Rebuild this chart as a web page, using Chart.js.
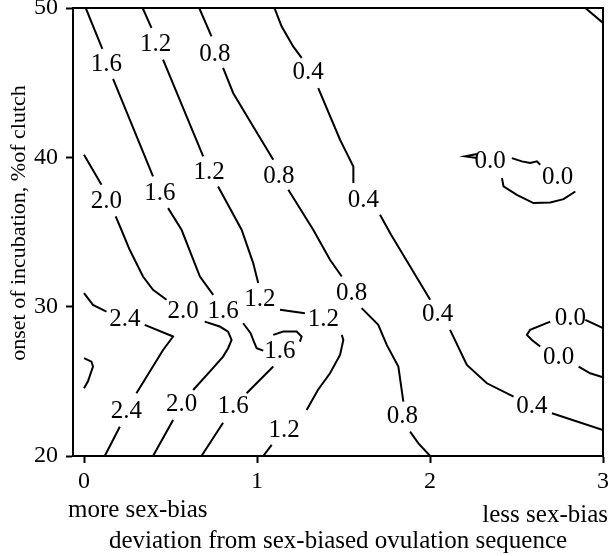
<!DOCTYPE html>
<html><head><meta charset="utf-8">
<script src="https://cdn.jsdelivr.net/npm/chart.js@4"></script>
<style>html,body{margin:0;padding:0;background:#fff}canvas{display:block}</style>
</head><body>
<canvas id="c" width="610" height="556"></canvas>
<script>
// ---- data (x: deviation, y: onset % of clutch); null = gap where a label sits ----
const xTicks = [0, 1, 2, 3];
const yTicks = [20, 30, 40, 50];

const c28 = [[0,26.55],[0.043,26.32],[0.052,25.99],[0.023,25.0],[0,24.54]];
const c24 = [[0,30.90],[0.052,30.12],[0.130,29.67],null,[0.351,28.78],[0.515,28.00],[0.457,27.10],[0.303,24.20],null,[0.207,21.96],[0.120,20]];
const c20 = [[0,40.17],[0.101,38.16],null,[0.183,36.04],[0.216,35.15],[0.264,33.81],[0.341,32.02],[0.399,31.13],[0.477,30.46],null,[0.698,29.00],[0.785,28.67],[0.833,28.33],[0.853,27.77],[0.833,27.22],[0.804,26.66],[0.727,25.65],[0.631,24.42],null,[0.515,22.41],[0.399,20]];
const c16 = [[0.010,50],[0.106,47.26],null,[0.168,45.25],[0.399,38.72],null,[0.486,36.60],[0.564,35.15],[0.670,32.02],[0.747,30.79],null,[0.920,28.89],[0.963,28.22],[0.982,27.66],[0.998,27.22],[1.036,27.06],null,[1.094,25.99],[0.940,24.20],null,[0.804,22.23],[0.679,20]];
const c16cap = [[1.094,28.11],[1.152,28.33],[1.229,28.33],[1.258,28.00],[1.248,27.66]];
const c12 = [[0.339,50],[0.390,48.67],null,[0.457,46.54],[0.689,40.06],null,[0.775,38.05],[0.911,35.15],[0.978,32.92],[1.007,31.58],null,[1.133,29.79],[1.277,29.56],null,[1.490,28.11],[1.499,27.77],[1.480,26.77],[1.422,25.54],[1.352,24.42],[1.287,23.08],null,[1.085,20.74],[1.036,20]];
const c08 = [[0.666,50],[0.737,48.10],null,[0.804,45.99],[0.862,44.31],[0.978,42.07],[1.094,39.84],null,[1.181,37.83],[1.325,35.15],[1.422,33.14],[1.490,32.02],null,[1.605,29.90],[1.701,28.78],[1.750,27.44],[1.817,25.99],[1.846,23.64],null,[1.885,21.63],[1.933,20.85],[2.001,20]];
const c04 = [[1.101,50],[1.123,49.34],[1.142,48.77],[1.209,47.43],[1.258,46.66],null,[1.354,44.64],[1.480,41.18],[1.499,40.73],[1.557,39.39],[1.557,38.28],null,[1.711,36.15],[1.775,34.81],[2.001,30.46],null,[2.116,28.45],[2.213,26.10],[2.329,24.87],[2.483,23.97],null,[2.705,22.86],[3.0,21.74]];
const c00upper = [[2.271,40.22],[2.203,40.06],[2.271,39.95],null,[2.473,39.95],[2.531,39.73],[2.579,39.62],[2.618,39.73],[2.637,39.50],null,[2.840,37.71],[2.772,37.20],[2.695,36.98],[2.598,36.94],[2.502,37.49],[2.425,38.05],[2.416,38.61]];
const c00lower = [[3.0,28.56],[2.898,29.12],null,[2.695,29.00],[2.579,28.45],[2.560,28.11],[2.589,27.77],[2.637,27.33],null,[2.859,25.99],[2.926,25.54],[3.0,25.27]];
const cCorner = [[2.898,50],[3.0,49.0]];

const labelTexts = ["1.6","1.6","1.6","1.6","1.6","1.2","1.2","1.2","1.2","1.2","0.8","0.8","0.8","0.8","0.4","0.4","0.4","0.4","2.0","2.0","2.0","2.4","2.4","0.0","0.0","0.0","0.0"];
const labelXs = [0.130,0.438,0.804,1.132,0.862, 0.414,0.723,1.017,1.383,1.157, 0.756,1.127,1.547,1.841, 1.295,1.615,2.044,2.589, 0.130,0.573,0.564, 0.236,0.245, 2.348,2.738,2.811,2.743];
const labelYs = [46.21,37.61,29.67,26.99,23.30, 47.55,39.00,30.46,29.12,21.74, 46.88,38.72,30.90,22.63, 45.67,37.10,29.45,23.30, 37.04,29.67,23.42, 29.17,22.97, 39.73,38.67,29.23,26.60];

const xTitle = "deviation from sex-biased ovulation sequence";
const yTitle = "onset of incubation, %of clutch";
const leftNote = "more sex-bias";
const rightNote = "less sex-bias";

const FONT = '"Liberation Serif", "Times New Roman", serif';
const contours = [c28, c24, c20, c16, c16cap, c12, c08, c04, c00upper, c00lower, cCorner];

const datasets = contours.map(pts => ({
  data: pts.map(p => p ? {x: p[0], y: p[1]} : {x: null, y: null}),
  showLine: true, spanGaps: false, borderColor: '#000', borderWidth: 2,
  pointRadius: 0, pointHoverRadius: 0, tension: 0, fill: false
}));

const decor = {
  id: 'decor',
  afterDatasetsDraw(chart) {
    const {ctx, scales: {x, y}, chartArea: a} = chart;
    ctx.save();
    ctx.fillStyle = '#000';
    ctx.font = '25px ' + FONT;
    ctx.textAlign = 'center';
    ctx.textBaseline = 'middle';
    for (let i = 0; i < labelTexts.length; i++) {
      ctx.fillText(labelTexts[i], x.getPixelForValue(labelXs[i]), y.getPixelForValue(labelYs[i]));
    }
    ctx.lineWidth = 2;
    ctx.strokeStyle = '#000';
    ctx.strokeRect(a.left, a.top, a.right - a.left, a.bottom - a.top);
    ctx.font = '25px ' + FONT;
    ctx.textBaseline = 'alphabetic';
    ctx.textAlign = 'left';
    ctx.fillText(leftNote, a.left - 5, a.bottom + 60.5);
    ctx.textAlign = 'right';
    ctx.fillText(rightNote, a.right + 5, a.bottom + 65.5);
    ctx.translate(a.left - 48.5, (a.top + a.bottom) / 2 - 9);
    ctx.rotate(-Math.PI / 2);
    ctx.font = '22px ' + FONT;
    ctx.textAlign = 'center';
    ctx.fillText(yTitle, 0, 0);
    ctx.restore();
  }
};

const gridOpts = {display: true, drawOnChartArea: false, drawTicks: true, tickLength: 7, tickWidth: 2, tickColor: '#000'};
const borderOpts = {display: true, color: '#000', width: 2};

new Chart(document.getElementById('c'), {
  type: 'scatter',
  data: {datasets},
  options: {
    responsive: false, animation: false, events: [],
    layout: {padding: {top: 8, right: 7, left: 0, bottom: 0}},
    plugins: {legend: {display: false}, tooltip: {enabled: false}},
    scales: {
      x: {
        type: 'linear', min: -0.0636, max: 3,
        afterBuildTicks: s => { s.ticks = xTicks.map(v => ({value: v})); },
        afterFit: s => { s.height = 100; s.paddingLeft = 0; s.paddingRight = 0; },
        ticks: {color: '#000', font: {family: FONT, size: 24}, padding: 4, maxRotation: 0},
        grid: gridOpts, border: borderOpts,
        title: {display: true, text: xTitle, color: '#000', font: {family: FONT, size: 25}, padding: {top: 0, bottom: 0}}
      },
      y: {
        type: 'linear', min: 20, max: 50,
        afterBuildTicks: s => { s.ticks = yTicks.map(v => ({value: v})); },
        afterFit: s => { s.width = 73; s.paddingTop = 0; s.paddingBottom = 0; },
        ticks: {color: '#000', font: {family: FONT, size: 24}, padding: 8},
        grid: gridOpts, border: borderOpts
      }
    }
  },
  plugins: [decor]
});
</script></body></html>
